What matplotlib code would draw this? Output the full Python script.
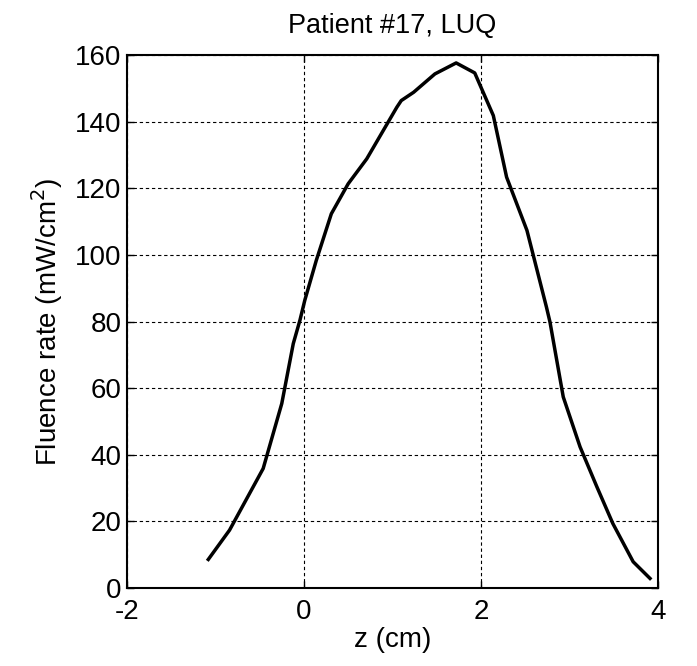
import matplotlib
matplotlib.use("Agg")
import matplotlib.pyplot as plt

z_cm = [-1.08, -0.84, -0.46, -0.25, -0.12, -0.045, 0.01, 0.14, 0.31, 0.50, 0.71,
        1.05, 1.10, 1.24, 1.48, 1.72, 1.93, 2.14, 2.29, 2.52, 2.74, 2.78, 2.93,
        3.12, 3.31, 3.49, 3.72, 3.91]
fluence = [8.6, 17.4, 35.9, 55.4, 73.4, 80.4, 86.4, 98.4, 112.4, 121.4, 128.9,
           144.4, 146.4, 148.9, 154.4, 157.7, 154.7, 141.9, 123.4, 107.4, 84.4,
           79.9, 57.4, 42.4, 30.4, 19.4, 7.9, 2.9]
xticks = [-2, 0, 2, 4]
yticks = [0, 20, 40, 60, 80, 100, 120, 140, 160]

plt.rcParams['font.family'] = ['Liberation Sans', 'DejaVu Sans']
plt.rcParams['axes.unicode_minus'] = False

fig = plt.figure(figsize=(6.97, 6.66), dpi=100)
ax = fig.add_axes([0.182, 0.117, 0.762, 0.800])
ax.plot(z_cm, fluence, color='black', linewidth=2.5)
ax.set_xlim(-2, 4)
ax.set_ylim(0, 160)
ax.set_xticks(xticks)
ax.set_yticks(yticks)
ax.grid(True, color='black', linestyle=(0, (3, 2.5)), linewidth=0.8)
ax.tick_params(direction='in', length=5, width=1, top=True, right=True,
               labelsize=20)
ax.tick_params(axis='x', pad=8)
ax.tick_params(axis='y', pad=4)
for s in ax.spines.values():
    s.set_linewidth(1.5)
ax.set_title('Patient #17, LUQ', fontsize=19.5, pad=16)
ax.set_xlabel('z (cm)', fontsize=20, labelpad=1)
ax.set_ylabel('Fluence rate (mW/cm$^2$)', fontsize=20, labelpad=7)
fig.savefig('out.png', dpi=100, facecolor='white')
